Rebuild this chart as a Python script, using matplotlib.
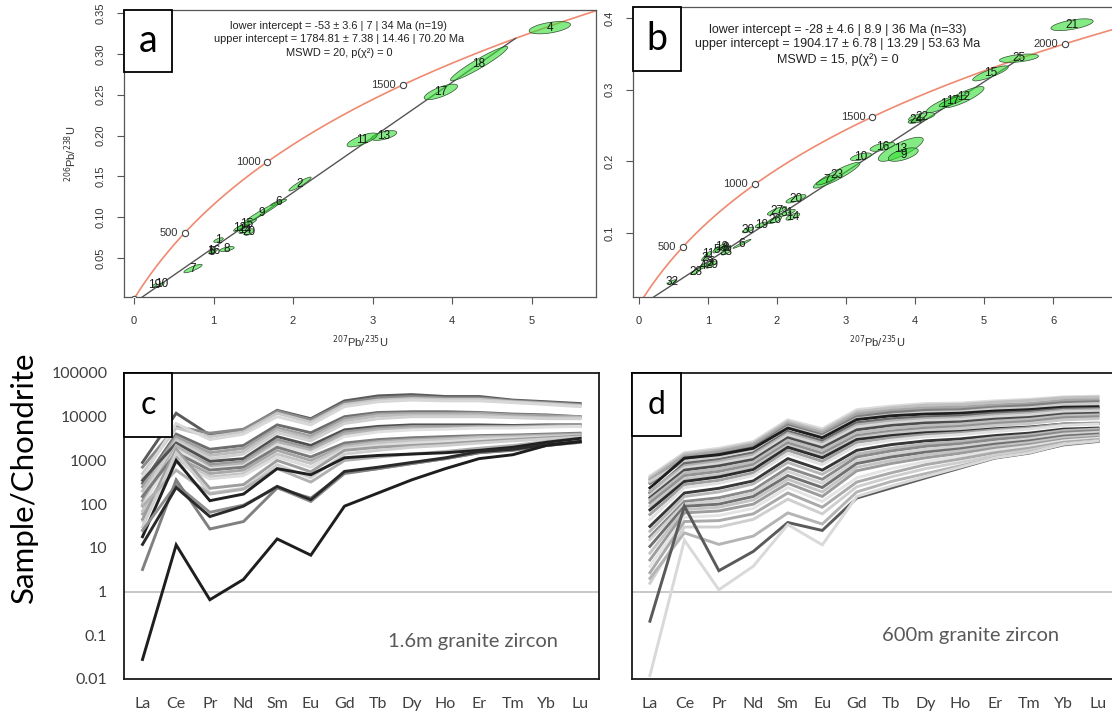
import numpy as np
import matplotlib.pyplot as plt
from matplotlib.patches import Polygon, Rectangle

W, H = 1112, 715

# ---------------- U-Pb data (panel a) ----------------
a_ids = ["4", "18", "17", "13", "11", "2", "6", "9", "15", "12", "20", "14", "1", "16", "5", "8", "7", "19", "10"]
a_x = [5.23, 4.34, 3.86, 3.145, 2.87, 2.088, 1.818, 1.61, 1.42, 1.333, 1.447, 1.39, 1.063, 1.00, 0.98, 1.17, 0.742, 0.26, 0.35]
a_y = [0.332, 0.288, 0.2534, 0.200, 0.1946, 0.1406, 0.118, 0.1057, 0.0916, 0.0867, 0.0818, 0.084, 0.072, 0.0586, 0.0575, 0.061, 0.0371, 0.0165, 0.018]
a_hx = [0.26, 0.36, 0.21, 0.16, 0.19, 0.14, 0.10, 0.23, 0.12, 0.08, 0.06, 0.07, 0.06, 0.05, 0.04, 0.09, 0.115, 0.03, 0.03]
a_hy = [0.0075, 0.021, 0.0095, 0.006, 0.0085, 0.0085, 0.004, 0.0133, 0.006, 0.004, 0.004, 0.004, 0.0028, 0.003, 0.0025, 0.003, 0.0052, 0.002, 0.002]
a_rho = [0.5, 0.95, 0.75, 0.6, 0.75, 0.93, 0.85, 0.97, 0.9, 0.8, 0.6, 0.7, 0.7, 0.7, 0.7, 0.6, 0.85, 0.7, 0.7]
a_ages = [0, 500, 1000, 1500]
a_lower, a_upper = -53.0, 1784.81
a_text = ["lower intercept = -53 \u00b1 3.6 | 7 | 34 Ma (n=19)",
          "upper intercept = 1784.81 \u00b1 7.38 | 14.46 | 70.20 Ma",
          "MSWD = 20, p(\u03c7\u00b2) = 0"]

# ---------------- U-Pb data (panel b) ----------------
b_ids = ["21", "25", "15", "12", "1", "17", "22", "24", "16", "10", "13", "9", "23", "7", "20", "27", "31",
         "14", "26", "19", "30", "6", "18", "33", "5", "8", "28", "29", "2", "3", "4", "11", "32"]
b_x = [6.276, 5.507, 5.094, 4.706, 4.406, 4.55, 4.097, 4.02, 3.529, 3.217, 3.794, 3.83, 2.865, 2.72, 2.275, 2.00, 2.145,
       2.23, 1.966, 1.773, 1.58, 1.493, 1.19, 1.26, 1.13, 1.25, 0.82, 1.05, 0.957, 1.03, 0.93, 1.0, 0.483]
b_y = [0.3906, 0.3438, 0.3227, 0.2896, 0.2795, 0.284, 0.262, 0.257, 0.2203, 0.2063, 0.2168, 0.2094, 0.1806, 0.174, 0.1477, 0.1309, 0.128,
       0.1229, 0.1182, 0.1112, 0.1042, 0.0849, 0.0804, 0.0733, 0.0762, 0.079, 0.046, 0.056, 0.065, 0.058, 0.0537, 0.07, 0.0317]
b_hx = [0.306, 0.283, 0.258, 0.295, 0.24, 0.2, 0.19, 0.12, 0.18, 0.152, 0.326, 0.217, 0.338, 0.15, 0.145, 0.14, 0.12,
        0.1, 0.1, 0.09, 0.08, 0.13, 0.1, 0.07, 0.06, 0.08, 0.07, 0.08, 0.05, 0.05, 0.05, 0.05, 0.06]
b_hy = [0.0082, 0.0059, 0.0105, 0.0147, 0.0116, 0.008, 0.006, 0.004, 0.0063, 0.0054, 0.0168, 0.0094, 0.018, 0.007, 0.0058, 0.006, 0.005,
        0.005, 0.005, 0.004, 0.004, 0.0063, 0.0045, 0.004, 0.004, 0.004, 0.004, 0.005, 0.004, 0.004, 0.004, 0.004, 0.003]
b_rho = [0.6, 0.5, 0.85, 0.85, 0.85, 0.85, 0.6, 0.6, 0.6, 0.6, 0.8, 0.6, 0.92, 0.85, 0.75, 0.8, 0.8,
         0.7, 0.7, 0.7, 0.7, 0.97, 0.8, 0.7, 0.7, 0.7, 0.8, 0.8, 0.7, 0.7, 0.7, 0.7, 0.7]
b_ages = [500, 1000, 1500, 2000]
b_lower, b_upper = -28.0, 1904.17
b_text = ["lower intercept = -28 \u00b1 4.6 | 8.9 | 36 Ma (n=33)",
          "upper intercept = 1904.17 \u00b1 6.78 | 13.29 | 53.63 Ma",
          "MSWD = 15, p(\u03c7\u00b2) = 0"]

L238, L235 = 1.55125e-4, 9.8485e-4  # per Ma

# ---------------- REE data ----------------
elements = ["La", "Ce", "Pr", "Nd", "Sm", "Eu", "Gd", "Tb", "Dy", "Ho", "Er", "Tm", "Yb", "Lu"]

ree_c = [
    [900, 12000, 3800, 5000, 14000, 9000, 23000, 30000, 32000, 29000, 29000, 24000, 22000, 20000],
    [700, 6000, 4200, 5200, 13500, 8500, 21000, 27000, 29000, 27000, 27000, 23000, 21000, 19000],
    [500, 5500, 3500, 4500, 12000, 7500, 19000, 24000, 26000, 25000, 25000, 22000, 20000, 18000],
    [400, 7000, 3000, 4000, 10000, 6500, 17000, 22000, 24000, 23000, 23000, 21000, 19000, 17000],
    [300, 4000, 1800, 2200, 6500, 4300, 10000, 12500, 13000, 13000, 12500, 11500, 11000, 10000],
    [250, 3500, 1500, 1900, 5500, 3600, 9000, 11500, 12000, 12000, 12000, 11000, 10500, 10000],
    [200, 3000, 1300, 1600, 5000, 3200, 8000, 10500, 11000, 11000, 11000, 10000, 9500, 9500],
    [150, 2800, 1100, 1400, 4300, 2800, 7000, 9000, 10000, 10000, 10000, 9500, 9000, 9000],
    [350, 2500, 950, 1100, 3500, 2200, 5000, 6000, 6500, 6500, 6500, 6300, 6500, 6500],
    [120, 2000, 800, 950, 3000, 1900, 4500, 5500, 6000, 6000, 6000, 6000, 6200, 6500],
    [100, 2200, 700, 850, 2600, 1700, 4000, 5000, 5500, 5500, 5800, 5800, 6000, 6000],
    [90, 1800, 650, 750, 2300, 1500, 3500, 4500, 5000, 5200, 5500, 5500, 5800, 6000],
    [150, 1500, 600, 700, 2000, 1200, 2500, 3000, 3300, 3500, 3700, 3800, 4000, 4200],
    [60, 1200, 500, 600, 1700, 1000, 2200, 2700, 3000, 3200, 3500, 3600, 3800, 4000],
    [70, 1000, 420, 500, 1400, 850, 2000, 2500, 2800, 3000, 3300, 3400, 3600, 3800],
    [40, 900, 380, 450, 1200, 700, 1800, 2200, 2500, 2700, 3000, 3200, 3400, 3600],
    [45, 1800, 230, 280, 1000, 550, 1700, 2000, 2200, 2400, 2700, 3000, 3300, 3600],
    [30, 1500, 180, 230, 800, 400, 1400, 1700, 2000, 2200, 2500, 2800, 3100, 3400],
    [90, 600, 170, 220, 650, 320, 1000, 1200, 1400, 1600, 1900, 2200, 2700, 3200],
    [18, 1000, 120, 170, 650, 470, 1150, 1300, 1400, 1500, 1700, 2000, 2600, 3200],
    [25, 280, 65, 95, 240, 115, 500, 650, 850, 1100, 1500, 1750, 2200, 2600],
    [3.2, 360, 27, 40, 235, 137, 520, 650, 850, 1100, 1500, 1700, 2200, 2600],
    [12, 240, 52, 90, 255, 126, 560, 700, 900, 1150, 1600, 1800, 2300, 2700],
    [0.028, 11.7, 0.65, 1.9, 16, 6.8, 90, 180, 360, 650, 1100, 1350, 2200, 2700],
]
shade_c = ["#5a5a5a", "#8a8a8a", "#c8c8c8", "#d8d8d8", "#6e6e6e", "#a0a0a0", "#bdbdbd", "#d0d0d0",
           "#505050", "#9a9a9a", "#b4b4b4", "#e0e0e0", "#7a7a7a", "#a8a8a8", "#c4c4c4", "#dcdcdc",
           "#9e9e9e", "#cfcfcf", "#b0b0b0", "#202020", "#8f8f8f", "#808080", "#2a2a2a", "#1e1e1e"]

ree_d = [
    [440, 1500, 1900, 2700, 8500, 5300, 14500, 17500, 20000, 20500, 23000, 25000, 28500, 29500],
    [400, 1400, 1750, 2500, 7800, 4800, 13000, 16000, 18500, 19000, 21500, 23500, 27000, 28000],
    [360, 1250, 1600, 2300, 7000, 4300, 11500, 14000, 16000, 16500, 18500, 20000, 23500, 24500],
    [300, 1050, 1400, 2000, 6300, 3800, 10000, 12500, 14000, 14500, 16500, 18000, 21000, 22000],
    [330, 950, 1250, 1800, 5800, 3500, 9000, 11000, 12500, 13000, 15000, 16000, 19000, 20000],
    [235, 1130, 1350, 1900, 5500, 3300, 8600, 10500, 11500, 12000, 13500, 14500, 16500, 17000],
    [180, 850, 1050, 1500, 4600, 2800, 7300, 9000, 10000, 10500, 12000, 13000, 15000, 15500],
    [200, 750, 950, 1350, 4200, 2500, 6500, 8000, 9000, 9500, 11000, 12000, 14000, 14500],
    [160, 680, 850, 1200, 3800, 2250, 5800, 7200, 8200, 8700, 10000, 11000, 13000, 13500],
    [140, 600, 750, 1050, 3300, 1950, 5000, 6300, 7200, 7600, 8800, 9600, 11500, 12000],
    [125, 520, 650, 920, 2900, 1700, 4300, 5500, 6300, 6800, 7900, 8700, 10500, 11000],
    [107, 450, 560, 800, 2500, 1450, 3700, 4700, 5500, 6000, 7000, 7800, 9500, 10000],
    [90, 380, 480, 700, 2200, 1250, 3300, 4200, 4900, 5400, 6300, 7000, 8500, 9000],
    [74, 330, 420, 620, 2000, 1150, 3000, 3700, 4300, 4600, 5300, 5800, 6800, 7000],
    [58, 280, 350, 520, 1700, 950, 2600, 3300, 3900, 4300, 5000, 5600, 6800, 7200],
    [44, 240, 300, 450, 1450, 800, 2200, 2900, 3500, 3900, 4600, 5200, 6300, 6800],
    [31, 180, 230, 340, 1100, 600, 1700, 2300, 2800, 3100, 3700, 4200, 5200, 5500],
    [24, 150, 190, 290, 900, 480, 1400, 1900, 2400, 2700, 3300, 3800, 4800, 5200],
    [18, 115, 140, 210, 680, 370, 1200, 1650, 2100, 2400, 3000, 3500, 4400, 4800],
    [15.4, 100, 120, 180, 560, 300, 1000, 1400, 1800, 2100, 2600, 3100, 4000, 4400],
    [10.8, 89, 100, 150, 450, 240, 850, 1200, 1550, 1850, 2350, 2800, 3600, 4000],
    [7.6, 75, 85, 125, 370, 190, 700, 1000, 1350, 1650, 2100, 2550, 3300, 3700],
    [5.3, 63, 70, 100, 300, 150, 580, 850, 1150, 1450, 1900, 2300, 3000, 3400],
    [3.8, 50, 55, 80, 240, 115, 400, 650, 950, 1250, 1700, 2100, 2800, 3200],
    [2.7, 40, 42, 60, 180, 85, 320, 520, 800, 1080, 1500, 1900, 2600, 3000],
    [1.55, 30, 30, 45, 130, 60, 250, 420, 650, 900, 1300, 1700, 2400, 2800],
    [2.0, 22, 12, 18.6, 63, 35, 190, 330, 500, 750, 1150, 1550, 2250, 2700],
    [0.21, 90, 3, 8.3, 38, 25, 138, 235, 400, 670, 1130, 1470, 2300, 2750],
    [0.012, 15, 1.1, 3.8, 34, 11.7, 150, 260, 430, 700, 1150, 1500, 2350, 2800],
]
shade_d = ["#dcdcdc", "#c0c0c0", "#a6a6a6", "#808080", "#cccccc", "#1e1e1e", "#6a6a6a", "#b0b0b0",
           "#d6d6d6", "#4d4d4d", "#bcbcbc", "#929292", "#c8c8c8", "#2e2e2e", "#a0a0a0", "#e0e0e0",
           "#383838", "#b8b8b8", "#8a8a8a", "#d2d2d2", "#707070", "#c4c4c4", "#9c9c9c", "#e4e4e4",
           "#aaaaaa", "#cfcfcf", "#b4b4b4", "#5a5a5a", "#d9d9d9"]

ree_ticks = [0.01, 0.1, 1, 10, 100, 1000, 10000, 100000]
ree_ticklabels = ["0.01", "0.1", "1", "10", "100", "1000", "10000", "100000"]


def rect(l, t, r, b):
    return [l / W, 1 - b / H, (r - l) / W, (b - t) / H]


def ellipse_pts(cx, cy, hx, hy, rho):
    th = np.linspace(0, 2 * np.pi, 60)
    ex = cx + hx * np.cos(th)
    ey = cy + hy * (rho * np.cos(th) + np.sqrt(1 - rho ** 2) * np.sin(th))
    return np.column_stack([ex, ey])


def concordia_panel(ax, ids, xs, ys, hxs, hys, rhos, ages, lower, upper, tmax, fs_lab):
    t = np.linspace(0, tmax, 400)
    ax.plot(np.exp(L235 * t) - 1, np.exp(L238 * t) - 1, color="#ef8a70", lw=1.2, zorder=1)
    xl, yl = np.exp(L235 * lower) - 1, np.exp(L238 * lower) - 1
    xu, yu = np.exp(L235 * upper) - 1, np.exp(L238 * upper) - 1
    ax.plot([xl, xu], [yl, yu], color="#555555", lw=1.0, zorder=2)
    for i in range(len(ids)):
        poly = Polygon(ellipse_pts(xs[i], ys[i], hxs[i], hys[i], rhos[i]), closed=True,
                       facecolor=(0.2, 0.87, 0.2, 0.6), edgecolor="#2f4f2f", lw=0.5, zorder=3)
        ax.add_patch(poly)
    for i in range(len(ids)):
        ax.text(xs[i], ys[i], ids[i], fontsize=fs_lab, ha="center", va="center",
                color="#1a1a1a", zorder=4, family="Liberation Sans")
    for a in ages:
        mx, my = np.exp(L235 * a) - 1, np.exp(L238 * a) - 1
        ax.plot(mx, my, "o", ms=4.5, mfc="white", mec="#444444", mew=0.8, zorder=5)
        if a > 0:
            ax.annotate(str(a), (mx, my), xytext=(-5, 0), textcoords="offset points",
                        ha="right", va="center", fontsize=8, color="#333333",
                        family="Liberation Sans")
    for s in ax.spines.values():
        s.set_color("#555555")
        s.set_linewidth(0.9)
    ax.tick_params(colors="#555555", labelcolor="#333333", labelsize=8, length=5, width=0.8)
    ax.tick_params(axis="x", pad=9)
    ax.tick_params(axis="y", pad=8)
    for lab in ax.get_xticklabels() + ax.get_yticklabels():
        lab.set_family("Liberation Sans")


def label_box(l, t, r, b, letter, fs):
    fig.add_artist(Rectangle((l / W, 1 - b / H), (r - l) / W, (b - t) / H, transform=fig.transFigure,
                             facecolor="white", edgecolor="black", lw=1.3, zorder=10))
    fig.text((l + r) / 2 / W, 1 - (t + b) / 2 / H, letter, ha="center", va="center",
             fontsize=fs, family="Lato", zorder=11)


def ree_panel(ax, data, shades, xlim):
    x = np.arange(len(elements))
    ax.axhline(1, color="#bfbfbf", lw=1.2, zorder=0)
    for vals, c in zip(data, shades):
        ax.plot(x, vals, color=c, lw=2.1, solid_joinstyle="miter")
    ax.set_yscale("log")
    ax.set_ylim(0.01, 100000)
    ax.set_xlim(*xlim)
    ax.set_xticks(x)
    ax.set_xticklabels(elements)
    ax.set_yticks(ree_ticks)
    ax.set_yticklabels(ree_ticklabels)
    ax.minorticks_off()
    ax.tick_params(length=0, labelsize=11.5, labelcolor="#404040")
    ax.tick_params(axis="y", pad=12)
    ax.tick_params(axis="x", pad=13)
    for lab in ax.get_xticklabels() + ax.get_yticklabels():
        lab.set_family("Lato")
    for s in ax.spines.values():
        s.set_color("#1a1a1a")
        s.set_linewidth(1.3)


fig = plt.figure(figsize=(W / 100, H / 100), dpi=100)

# panel a
ax_a = fig.add_axes(rect(124, 10, 596, 297))
ax_a.set_xlim(-0.126, 5.811)
ax_a.set_ylim(0.00225, 0.3537)
ax_a.set_xticks([0, 1, 2, 3, 4, 5])
ax_a.set_yticks([0.05, 0.10, 0.15, 0.20, 0.25, 0.30, 0.35])
ax_a.set_yticklabels(["0.05", "0.10", "0.15", "0.20", "0.25", "0.30", "0.35"], rotation=90, va="center")
concordia_panel(ax_a, a_ids, a_x, a_y, a_hx, a_hy, a_rho, a_ages, a_lower, a_upper, 2100, 8.5)
ax_a.set_xlabel(r"$^{207}$Pb/$^{235}$U", fontsize=8, color="#333333", labelpad=5, family="Liberation Sans")
ax_a.set_ylabel(r"$^{206}$Pb/$^{238}$U", fontsize=8, color="#333333", labelpad=12, family="Liberation Sans")
for i, line in enumerate(a_text):
    fig.text(339 / W, 1 - (26 + 13.3 * i) / H, line, ha="center", va="center", fontsize=7.9,
             family="Liberation Sans", color="#222222")

# panel b
ax_b = fig.add_axes(rect(633, 7, 1122, 297))
ax_b.set_xlim(-0.087, 7.0)
ax_b.set_ylim(0.0107, 0.4153)
ax_b.set_xticks([0, 1, 2, 3, 4, 5, 6])
ax_b.set_yticks([0.1, 0.2, 0.3, 0.4])
ax_b.set_yticklabels(["0.1", "0.2", "0.3", "0.4"], rotation=90, va="center")
concordia_panel(ax_b, b_ids, b_x, b_y, b_hx, b_hy, b_rho, b_ages, b_lower, b_upper, 2200, 8.5)
ax_b.set_xlabel(r"$^{207}$Pb/$^{235}$U", fontsize=8, color="#333333", labelpad=5, family="Liberation Sans")
for i, line in enumerate(b_text):
    fig.text(838 / W, 1 - (29.5 + 15 * i) / H, line, ha="center", va="center", fontsize=9,
             family="Liberation Sans", color="#222222")

# panel c
ax_c = fig.add_axes(rect(124, 373, 599, 679))
ree_panel(ax_c, ree_c, shade_c, (-0.55, 13.56))
fig.text(473 / W, 1 - 642 / H, "1.6m granite zircon", ha="center", va="center",
         fontsize=14.5, family="Lato", color="#595959")

# panel d
ax_d = fig.add_axes(rect(632, 373, 1116, 679))
ree_panel(ax_d, ree_d, shade_d, (-0.52, 13.52))
ax_d.set_yticklabels([])
fig.text(971 / W, 1 - 635 / H, "600m granite zircon", ha="center", va="center",
         fontsize=14.5, family="Lato", color="#595959")

fig.text(24 / W, 1 - 477 / H, "Sample/Chondrite", rotation=90, ha="center", va="center",
         fontsize=22.5, family="Lato", color="black")

label_box(124, 10, 172, 72, "a", 27)
label_box(633, 7, 681, 71, "b", 27)
label_box(124, 373, 172, 437, "c", 23)
label_box(632, 373, 681, 436, "d", 23)

fig.savefig("out.png", dpi=100)
